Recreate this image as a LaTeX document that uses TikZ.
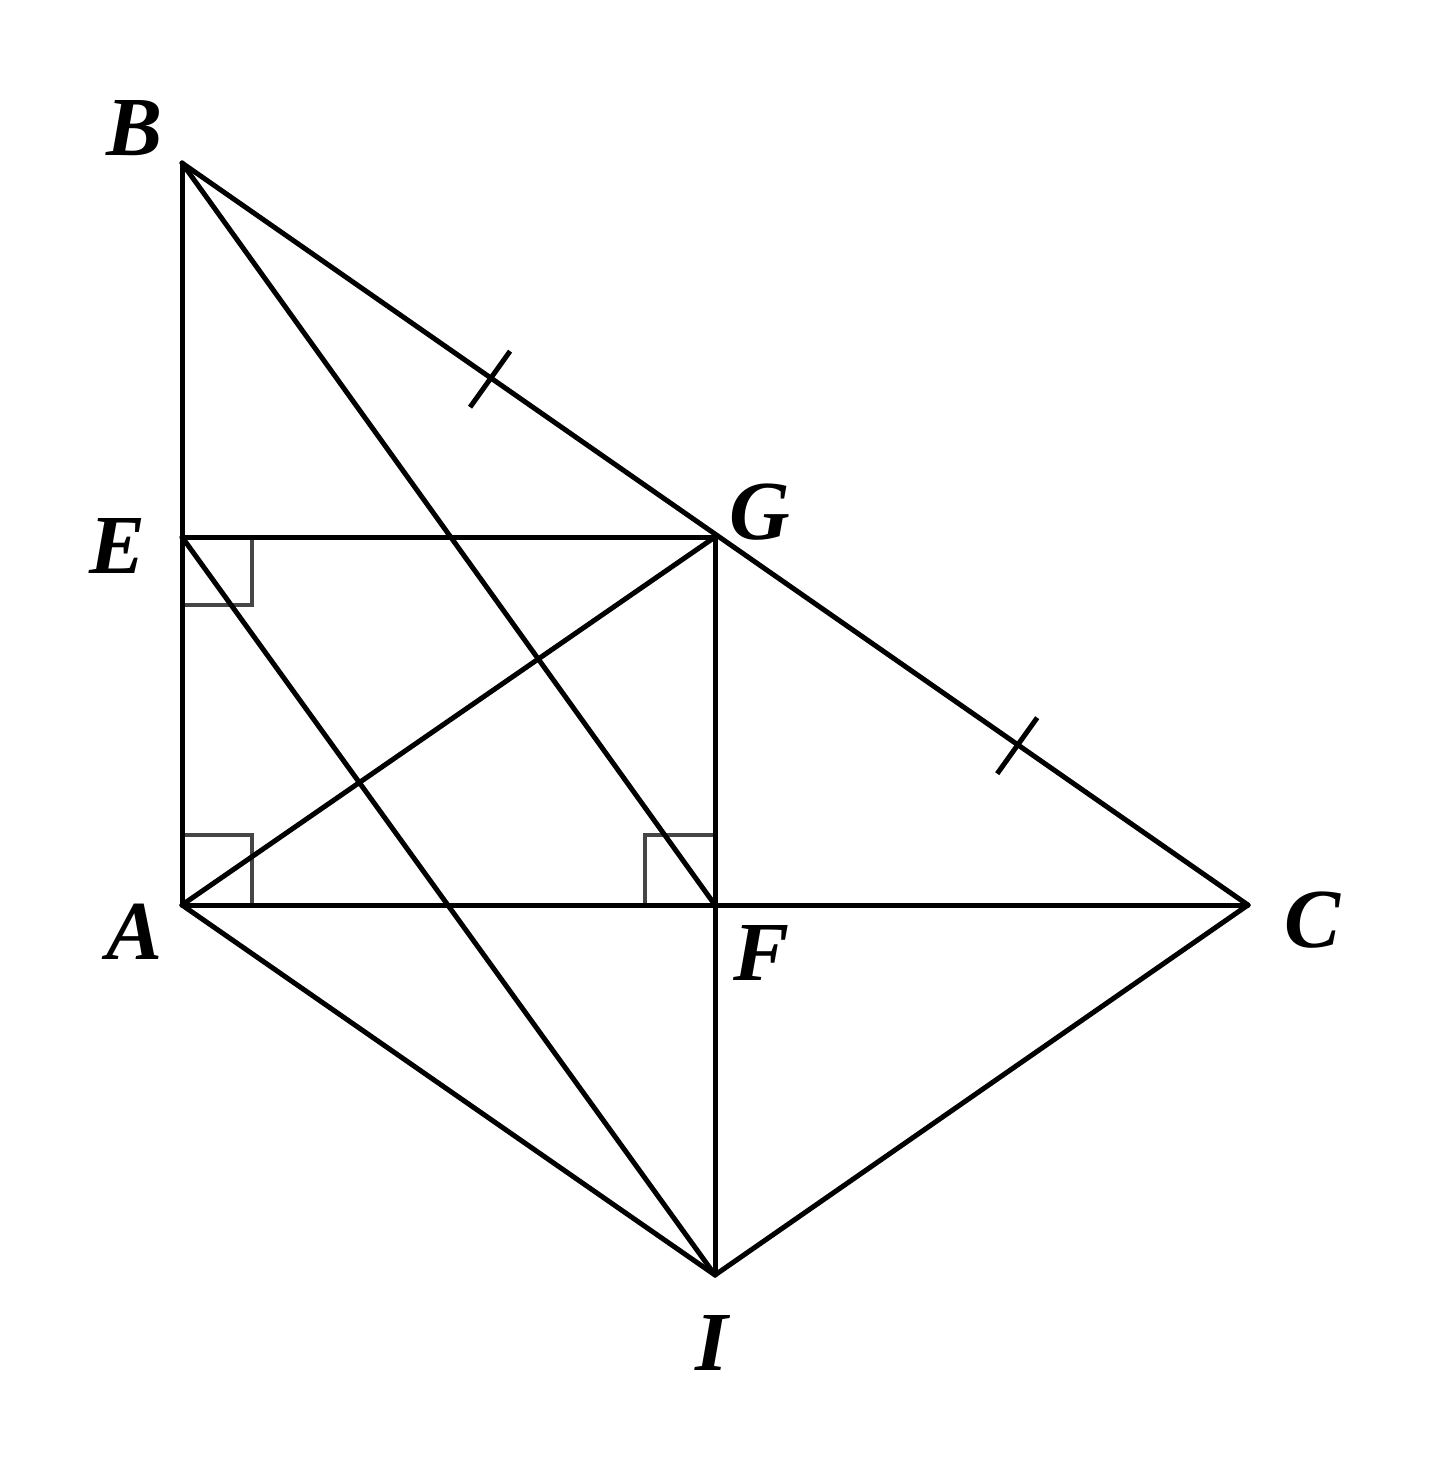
\documentclass[tikz,border=0pt]{standalone}
\usepackage{fontspec}
\setmainfont{Liberation Serif}
\usetikzlibrary{calc}
\begin{document}
\begin{tikzpicture}[x=1pt,y=-1pt,
  seg/.style={line width=5pt,line cap=round,line join=round},
  rmark/.style={line width=4pt,draw={rgb,255:red,70;green,70;blue,70}},
  lab/.style={font=\fontsize{84}{84}\selectfont\bfseries\itshape,inner sep=0pt}]
\useasboundingbox (0,0) rectangle (1432,1476);
\coordinate (A) at (182,905);
\coordinate (B) at (182,163);
\coordinate (C) at (1248,905);
\coordinate (E) at (182,537);
\coordinate (G) at (715,537);
\coordinate (F) at (715,905);
\coordinate (I) at (715,1275);
% right angle marks
\draw[rmark] (182,605) -- (252,605) -- (252,537);
\draw[rmark] (182,835) -- (252,835) -- (252,905);
\draw[rmark] (645,905) -- (645,835) -- (715,835);
% lines
\draw[seg] (B) -- (A);
\draw[seg] (B) -- (C);
\draw[seg] (B) -- (F);
\draw[seg] (E) -- (G);
\draw[seg] (E) -- (I);
\draw[seg] (A) -- (G);
\draw[seg] (G) -- (I);
\draw[seg] (A) -- (C);
\draw[seg] (A) -- (I);
\draw[seg] (I) -- (C);
% ticks
\path (B) -- (G) coordinate[pos=0.578] (t1);
\path (G) -- (C) coordinate[pos=0.567] (t2);
\draw[seg,line cap=butt] ($(t1)+(-20,28)$) -- ($(t1)+(20,-28)$);
\draw[seg,line cap=butt] ($(t2)+(-20,28)$) -- ($(t2)+(20,-28)$);
% labels
\node[lab] (lB) at (135,128) {B};
\node[lab] (lE) at (118,546) {E};
\node[lab] (lG) at (760,512) {G};
\node[lab] (lA) at (135,932) {A};
\node[lab] (lF) at (762,953) {F};
\node[lab] (lC) at (1313,920) {C};
\node[lab] (lI) at (712,1343) {I};
\end{tikzpicture}
\end{document}
